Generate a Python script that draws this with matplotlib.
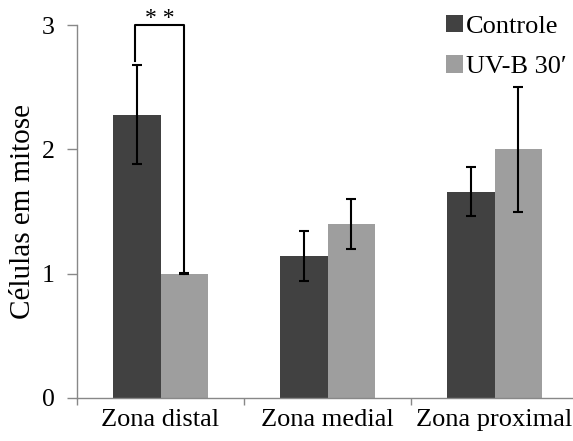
import matplotlib
matplotlib.use("Agg")
import matplotlib.pyplot as plt
import numpy as np

categories = ["Zona distal", "Zona medial", "Zona proximal"]
series_names = ["Controle", "UV-B 30\u2032"]
controle = [2.28, 1.14, 1.66]
controle_err = [0.40, 0.20, 0.20]
uvb = [1.00, 1.40, 2.00]
uvb_err = [0.006, 0.20, 0.50]
yticks = [0, 1, 2, 3]

plt.rcParams['font.family'] = ['Liberation Serif', 'DejaVu Serif']

fig = plt.figure(figsize=(5.73, 4.41), dpi=100)
ax = fig.add_axes([77/573, 43/441, 501/573, 373/441])

x = np.arange(len(categories))
w = 0.282
dark = "#414141"
light = "#9e9e9e"
ekw = dict(ecolor="black", elinewidth=1.5, capsize=3.8, capthick=1.5)
ax.bar(x - w/2, controle, w, color=dark, label=series_names[0],
       yerr=controle_err, error_kw=ekw, zorder=2)
ax.bar(x + w/2, uvb, w, color=light, label=series_names[1],
       yerr=uvb_err, error_kw=ekw, zorder=2)

ax.set_xlim(-0.5, len(categories) - 0.5)
ax.set_ylim(0, 3)
ax.set_yticks(yticks)
ax.set_xticks(x)
ax.set_xticklabels(categories, fontsize=19)
ax.set_xticks(np.arange(len(categories) + 1) - 0.5, minor=True)
ax.tick_params(axis='x', which='major', length=0, pad=8)
ax.tick_params(axis='x', which='minor', length=5, color="#888888", width=1, direction='out')
ax.tick_params(axis='y', length=7, color="#888888", width=1, labelsize=18.5, pad=9)

for s in ["top", "right"]:
    ax.spines[s].set_visible(False)
for s in ["left", "bottom"]:
    ax.spines[s].set_color("#888888")
    ax.spines[s].set_linewidth(1)

ax.set_ylabel("Células em mitose", fontsize=21, labelpad=4)

# significance bracket
xl = x[0] - w/2 - 0.01
xr = x[0] + w/2 + 0.0
y_top = 3.0
ax.plot([xl, xl, xr, xr], [2.71, y_top, y_top, uvb[0]], color="black",
        lw=1.5, clip_on=False, zorder=3)
ax.text((xl + xr) / 2, y_top + 0.01, "* *", ha="center", va="baseline",
        fontsize=17, clip_on=False)

leg = ax.legend(loc="upper left", bbox_to_anchor=(446/573, 1 - 15/441),
                bbox_transform=fig.transFigure, frameon=False, fontsize=19,
                handlelength=0.64, handleheight=0.64, handletextpad=0.1,
                labelspacing=0.65, borderaxespad=0, borderpad=0)

fig.savefig("out.png", dpi=100)
